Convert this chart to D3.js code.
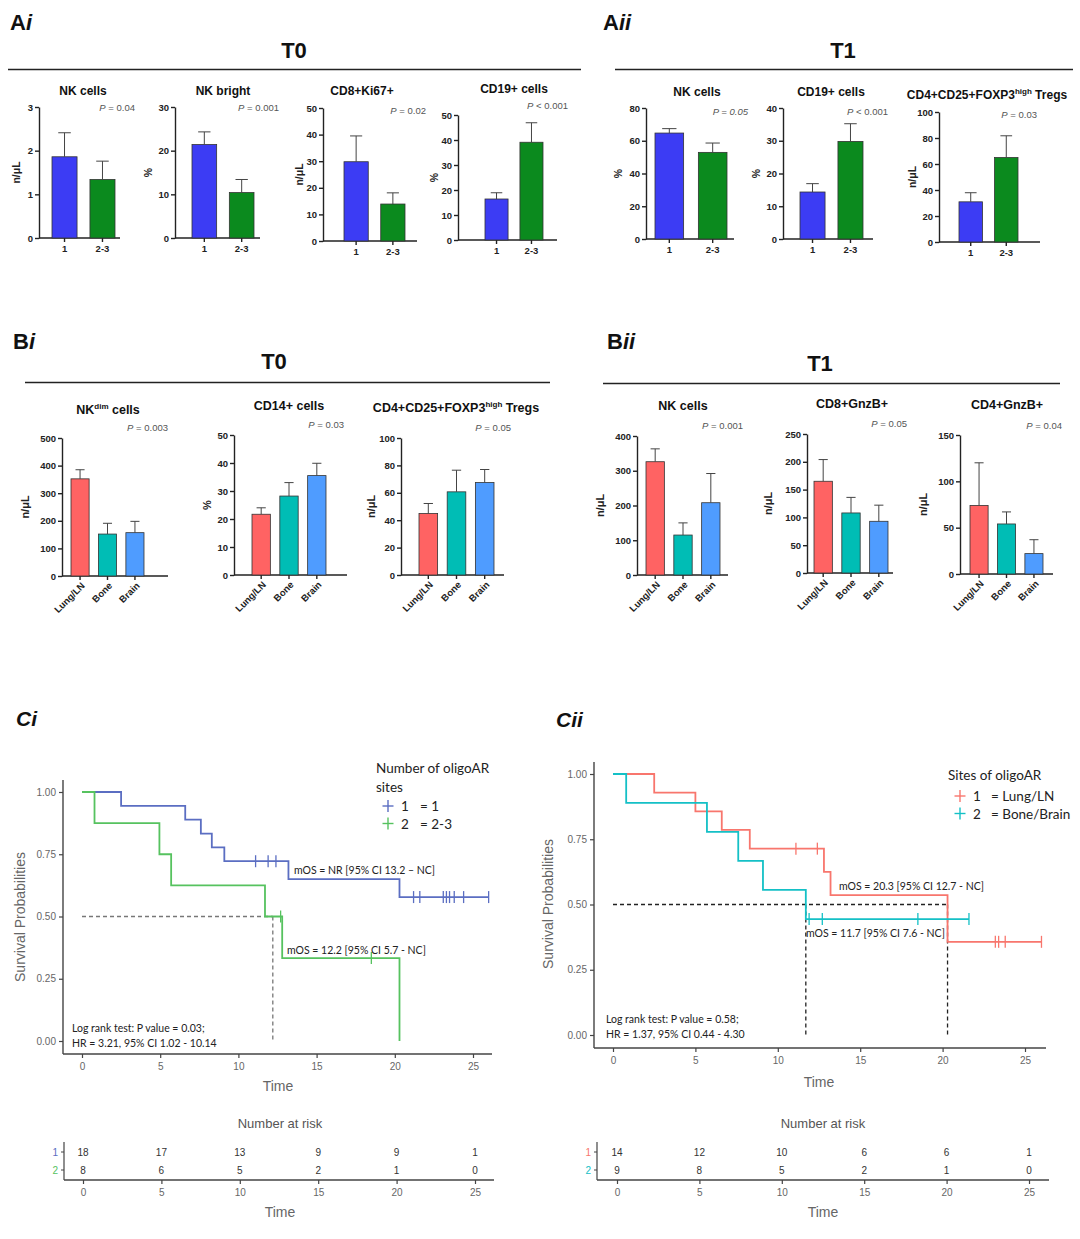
<!DOCTYPE html>
<html lang="en">
<head>
<meta charset="utf-8">
<title>Immune subsets and survival by oligoAR sites</title>
<script src="https://cdnjs.cloudflare.com/ajax/libs/d3/7.8.5/d3.min.js"></script>
<style>
body { margin: 0; background: #fff; }
svg { display: block; font-family: "Liberation Sans", Arial, sans-serif; }
.bars .tick text { font-weight: bold; font-size: 9.5px; fill: #222; }
.bars .tick line, .bars .domain { stroke: #222; stroke-width: 1.4; }
.km .tick text { font-size: 10px; fill: #666; }
.km .tick line { stroke: #444; stroke-width: 1.2; }
.ann { font-family: Lato, "Open Sans", sans-serif; fill: #222; }
.narrow { font-family: "Liberation Sans Narrow", "Liberation Sans", Arial, sans-serif; }
</style>
</head>
<body>
<script>
// ---------------- data ----------------
var groupsA = ["1", "2-3"];
var sitesB = ["Lung/LN", "Bone", "Brain"];

// Ai : T0, by number of sites
var aiTitles = ["NK cells", "NK bright", "CD8+Ki67+", "CD19+ cells"];
var aiUnits = ["n/\u03bcL", "%", "n/\u03bcL", "%"];
var aiP = ["= 0.04", "= 0.001", "= 0.02", "< 0.001"];
var aiMax = [3, 30, 50, 50];
var aiStep = [1, 10, 10, 10];
var aiMean = [[1.86, 1.34], [21.4, 10.4], [29.8, 13.9], [16.4, 39.1]];
var aiErr = [[2.41, 1.76], [24.3, 13.4], [39.5, 18.1], [18.9, 46.9]];

// Aii : T1, by number of sites
var aiiTitles = ["NK cells", "CD19+ cells", "CD4+CD25+FOXP3^high^ Tregs"];
var aiiUnits = ["%", "%", "n/\u03bcL"];
var aiiP = ["= 0.05", "< 0.001", "= 0.03"];
var aiiMax = [80, 40, 100];
var aiiStep = [20, 10, 20];
var aiiMean = [[64.7, 52.9], [14.35, 29.8], [30.9, 65.0]];
var aiiErr = [[67.4, 58.6], [16.9, 35.2], [37.9, 81.7]];

// Bi : T0, by site
var biTitles = ["NK^dim^ cells", "CD14+ cells", "CD4+CD25+FOXP3^high^ Tregs"];
var biUnits = ["n/\u03bcL", "%", "n/\u03bcL"];
var biP = ["= 0.003", "= 0.03", "= 0.05"];
var biMax = [500, 50, 100];
var biStep = [100, 10, 20];
var biMean = [[352, 152, 157], [21.7, 28.2, 35.5], [44.9, 60.7, 67.5]];
var biErr = [[385, 191, 198], [24, 33, 39.9], [52.2, 76.5, 77]];

// Bii : T1, by site
var biiTitles = ["NK cells", "CD8+GnzB+", "CD4+GnzB+"];
var biiUnits = ["n/\u03bcL", "n/\u03bcL", "n/\u03bcL"];
var biiP = ["= 0.001", "= 0.05", "= 0.04"];
var biiMax = [400, 250, 150];
var biiStep = [100, 50, 50];
var biiMean = [[326, 115, 208], [165, 108, 93], [74, 54, 22]];
var biiErr = [[363, 150, 292], [204, 136, 122], [120, 67, 37]];

// Ci : survival by number of sites  ([time, survival after the drop])
var ci1Steps = [[2.5, 0.944], [6.6, 0.889], [7.6, 0.833], [8.3, 0.778], [9.1, 0.722], [13.2, 0.65], [20.3, 0.578]];
var ci1End = 26.0;
var ci1Cens = [[11.1, 0.722], [11.9, 0.722], [12.4, 0.722], [21.2, 0.578], [21.6, 0.578], [23.1, 0.578],
               [23.3, 0.578], [23.5, 0.578], [23.8, 0.578], [24.4, 0.578], [26.0, 0.578]];
var ci2Steps = [[0.8, 0.875], [4.95, 0.75], [5.7, 0.625], [11.7, 0.5], [12.8, 0.333], [20.3, 0]];
var ci2End = 20.3;
var ci2Cens = [[12.7, 0.5], [18.5, 0.333]];
var ciMedians = [12.2];

// Cii : survival by site
var cii1Steps = [[2.5, 0.929], [5.0, 0.857], [6.6, 0.786], [8.3, 0.714], [12.8, 0.625], [13.2, 0.536], [20.3, 0.357]];
var cii1End = 26.0;
var cii1Cens = [[11.1, 0.714], [12.4, 0.714], [23.2, 0.357], [23.4, 0.357], [23.8, 0.357], [26.0, 0.357]];
var cii2Steps = [[0.8, 0.889], [5.7, 0.778], [7.6, 0.667], [9.1, 0.556], [11.7, 0.444]];
var cii2End = 21.6;
var cii2Cens = [[11.9, 0.444], [12.7, 0.444], [18.5, 0.444], [21.6, 0.444]];
var ciiMedians = [11.7, 20.3];

// number at risk
var riskTimes = [0, 5, 10, 15, 20, 25];
var ciRisk1 = [18, 17, 13, 9, 9, 1];
var ciRisk2 = [8, 6, 5, 2, 1, 0];
var ciiRisk1 = [14, 12, 10, 6, 6, 1];
var ciiRisk2 = [9, 8, 5, 2, 1, 0];

var kmTicksX = [0, 5, 10, 15, 20, 25];
var kmTicksY = [0, 0.25, 0.5, 0.75, 1];

// ---------------- colours ----------------
var colA = ["#3c3cf4", "#0b8a1e"];
var colB = ["#ff6363", "#00bdb5", "#4f9cff"];
var colCi = ["#5b6ec2", "#56c25f"];
var colCii = ["#f8766d", "#14c0c6"];

// ---------------- svg ----------------
var W = 1080, H = 1239;
var svg = d3.select("body").append("svg").attr("width", W).attr("height", H);
svg.append("rect").attr("width", W).attr("height", H).attr("fill", "#fff");

// text with ^superscript^ parts
function richText(sel, str, supSize) {
  var parts = str.split("^");
  var shift = 0;
  parts.forEach(function(p, i) {
    if (!p) return;
    var t = sel.append("tspan").text(p);
    if (i % 2 === 1) {
      t.attr("font-size", supSize).attr("dy", -5);
      shift = 5;
    } else if (shift) {
      t.attr("dy", shift);
      shift = 0;
    }
  });
}

function header(lab, sub, lx, ly, title, tx, ty, x1, x2, lineY) {
  var t = svg.append("text").attr("x", lx).attr("y", ly)
    .attr("font-size", 22).attr("font-weight", "bold").attr("fill", "#111");
  t.append("tspan").text(lab);
  t.append("tspan").attr("font-style", "italic").text(sub);
  svg.append("text").attr("x", tx).attr("y", ty).attr("text-anchor", "middle")
    .attr("font-size", 22).attr("font-weight", "bold").attr("fill", "#111").text(title);
  svg.append("line").attr("x1", x1).attr("x2", x2).attr("y1", lineY).attr("y2", lineY)
    .attr("stroke", "#222").attr("stroke-width", 1.3);
}

function barPanel(L, d) {
  var g = svg.append("g").attr("class", "bars");
  var y = d3.scaleLinear().domain([0, d.max]).range([L.bot, L.top]);
  var x = d3.scaleBand().domain(d.cats).range([L.ax + L.band[0], L.ax + L.band[1]]).paddingInner(0.34);

  g.append("g").attr("transform", "translate(" + L.ax + ",0)")
    .call(d3.axisLeft(y).tickValues(d3.range(0, d.max + d.step / 2, d.step))
      .tickFormat(d3.format("~g")).tickSize(4).tickSizeOuter(0).tickPadding(2));

  var xa = g.append("g").attr("transform", "translate(0," + L.bot + ")")
    .call(d3.axisBottom(x).tickSize(4).tickSizeOuter(0).tickPadding(3));
  xa.select(".domain").remove();
  g.append("line").attr("x1", L.ax).attr("x2", L.ax + L.len).attr("y1", L.bot).attr("y2", L.bot)
    .attr("stroke", "#222").attr("stroke-width", 1.4);
  if (d.rotate) {
    xa.selectAll(".tick text").attr("text-anchor", "end").attr("x", 0).attr("y", 0)
      .attr("dy", "0.35em").style("font-size", "9.5px")
      .attr("transform", "translate(3,8) rotate(-45)");
  }

  // bars
  g.selectAll("rect.bar").data(d.cats).enter().append("rect")
    .attr("class", "bar")
    .attr("x", function(c) { return x(c); })
    .attr("width", x.bandwidth())
    .attr("y", function(c, i) { return y(d.mean[i]); })
    .attr("height", function(c, i) { return L.bot - y(d.mean[i]); })
    .attr("fill", function(c, i) { return d.colors[i]; })
    .attr("stroke", "#333").attr("stroke-width", 0.8);

  // error bars (upper only)
  var cap = x.bandwidth() * 0.25;
  d.cats.forEach(function(c, i) {
    var cx = x(c) + x.bandwidth() / 2;
    g.append("line").attr("x1", cx).attr("x2", cx).attr("y1", y(d.mean[i])).attr("y2", y(d.err[i]))
      .attr("stroke", "#444").attr("stroke-width", 1);
    g.append("line").attr("x1", cx - cap).attr("x2", cx + cap).attr("y1", y(d.err[i])).attr("y2", y(d.err[i]))
      .attr("stroke", "#444").attr("stroke-width", 1);
  });

  // title
  var tt = g.append("text").attr("x", L.tx).attr("y", L.ty).attr("text-anchor", "middle")
    .attr("font-size", d.tsize).attr("font-weight", "bold").attr("fill", "#111");
  richText(tt, d.title, 8);

  // unit label
  g.append("text").attr("transform", "translate(" + (L.ax + L.lab) + "," + ((L.top + L.bot) / 2) + ") rotate(-90)")
    .attr("text-anchor", "middle").attr("dy", "0.35em")
    .attr("font-size", d.usize).attr("font-weight", "bold").attr("fill", "#222").text(d.unit);

  // p value
  var pt = g.append("text").attr("x", L.px).attr("y", L.py).attr("text-anchor", "end")
    .attr("font-size", 9.5).attr("fill", "#555");
  if (d.pItalic) pt.attr("font-style", "italic");
  pt.append("tspan").attr("font-style", "italic").text("P");
  pt.append("tspan").text(" " + d.p);
}

// ---------------- panel A ----------------
header("A", "i", 10, 30, "T0", 294, 58, 8, 581, 69.5);
header("A", "ii", 603, 30, "T1", 843, 58, 615, 1073, 69.5);

var aiLayout = [
  {ax: 39, top: 107, bot: 238, band: [13, 76], len: 81, tx: 83, ty: 95, px: 135, py: 111, lab: -23},
  {ax: 175, top: 107, bot: 238, band: [17, 79], len: 85, tx: 223, ty: 95, px: 279, py: 111, lab: -27},
  {ax: 323, top: 108, bot: 241, band: [21, 82], len: 94, tx: 362, ty: 95, px: 426, py: 114, lab: -24},
  {ax: 458, top: 115, bot: 240, band: [27, 85], len: 99, tx: 514, ty: 93, px: 568, py: 109, lab: -24}
];
aiLayout.forEach(function(L, i) {
  barPanel(L, {title: aiTitles[i], unit: aiUnits[i], p: aiP[i], max: aiMax[i], step: aiStep[i],
    mean: aiMean[i], err: aiErr[i], cats: groupsA, colors: colA, tsize: 12, usize: 10.5});
});

var aiiLayout = [
  {ax: 646, top: 108, bot: 239, band: [9, 81], len: 88, tx: 697, ty: 96, px: 748, py: 115, lab: -28},
  {ax: 783, top: 108, bot: 239, band: [17, 80], len: 90, tx: 831, ty: 96, px: 888, py: 115, lab: -27},
  {ax: 939, top: 112, bot: 242, band: [20, 79], len: 101, tx: 987, ty: 99, px: 1037, py: 118, lab: -27}
];
aiiLayout.forEach(function(L, i) {
  barPanel(L, {title: aiiTitles[i], unit: aiiUnits[i], p: aiiP[i], max: aiiMax[i], step: aiiStep[i],
    mean: aiiMean[i], err: aiiErr[i], cats: groupsA, colors: colA, tsize: 12, usize: 10.5, pItalic: i === 0});
});

// ---------------- panel B ----------------
header("B", "i", 13, 349, "T0", 274, 369, 25, 550, 382.5);
header("B", "ii", 607, 349, "T1", 820, 371, 603, 1060, 383.5);

var biLayout = [
  {ax: 62, top: 438, bot: 576, band: [9, 82], len: 106, tx: 108, ty: 414, px: 168, py: 431, lab: -37},
  {ax: 234, top: 435, bot: 575, band: [18, 92], len: 113, tx: 289, ty: 410, px: 344, py: 428, lab: -27},
  {ax: 401, top: 438, bot: 575, band: [18, 93], len: 103, tx: 456, ty: 412, px: 511, py: 431, lab: -30}
];
biLayout.forEach(function(L, i) {
  barPanel(L, {title: biTitles[i], unit: biUnits[i], p: biP[i], max: biMax[i], step: biStep[i],
    mean: biMean[i], err: biErr[i], cats: sitesB, colors: colB, tsize: 12.5, usize: 11, rotate: true});
});

var biiLayout = [
  {ax: 637, top: 436, bot: 575, band: [9, 83], len: 91, tx: 683, ty: 410, px: 743, py: 429, lab: -37},
  {ax: 807, top: 434, bot: 573, band: [7, 81], len: 86, tx: 852, ty: 408, px: 907, py: 427, lab: -39},
  {ax: 960, top: 435, bot: 574, band: [10, 83], len: 93, tx: 1007, ty: 409, px: 1062, py: 429, lab: -37}
];
biiLayout.forEach(function(L, i) {
  barPanel(L, {title: biiTitles[i], unit: biiUnits[i], p: biiP[i], max: biiMax[i], step: biiStep[i],
    mean: biiMean[i], err: biiErr[i], cats: sitesB, colors: colB, tsize: 12.5, usize: 11, rotate: true});
});

// ---------------- panel C ----------------
function kmPanel(o) {
  var g = svg.append("g").attr("class", "km");
  var x = d3.scaleLinear().domain([0, 25]).range(o.xr);
  var y = d3.scaleLinear().domain([0, 1]).range(o.yr);

  g.append("text").attr("x", o.lx).attr("y", o.ly)
    .attr("font-size", 21).attr("font-weight", "bold").attr("font-style", "italic").attr("fill", "#111")
    .text(o.label);

  // axes
  g.append("line").attr("x1", o.ax).attr("x2", o.ax).attr("y1", o.axTop).attr("y2", o.axBot)
    .attr("stroke", "#444").attr("stroke-width", 1.4);
  g.append("line").attr("x1", o.ax).attr("x2", o.axRight).attr("y1", o.axBot).attr("y2", o.axBot)
    .attr("stroke", "#444").attr("stroke-width", 1.4);
  var ya = g.append("g").attr("transform", "translate(" + o.ax + ",0)")
    .call(d3.axisLeft(y).tickValues(kmTicksY).tickFormat(d3.format(".2f")).tickSize(4).tickPadding(3));
  ya.select(".domain").remove();
  var xa = g.append("g").attr("transform", "translate(0," + o.axBot + ")")
    .call(d3.axisBottom(x).tickValues(kmTicksX).tickSize(4).tickPadding(5));
  xa.select(".domain").remove();

  g.append("text").attr("transform", "translate(" + o.ylx + "," + o.yly + ") rotate(-90)")
    .attr("text-anchor", "middle").attr("font-size", 14).attr("fill", "#666").text("Survival Probabilities");
  g.append("text").attr("x", o.tlx).attr("y", o.tly).attr("text-anchor", "middle")
    .attr("font-size", 14).attr("fill", "#666").text("Time");

  // median reference lines
  var mMax = d3.max(o.medians);
  g.append("line").attr("x1", x(0)).attr("x2", x(mMax)).attr("y1", y(0.5)).attr("y2", y(0.5))
    .attr("stroke", o.dashCol).attr("stroke-width", 1.3).attr("stroke-dasharray", "4,3");
  o.medians.forEach(function(m) {
    g.append("line").attr("x1", x(m)).attr("x2", x(m)).attr("y1", y(0.5)).attr("y2", y(0))
      .attr("stroke", o.dashCol).attr("stroke-width", 1.3).attr("stroke-dasharray", "4,3");
  });

  // curves
  var line = d3.line().x(function(p) { return x(p[0]); }).y(function(p) { return y(p[1]); })
    .curve(d3.curveStepAfter);
  o.series.forEach(function(s) {
    var pts = [[0, 1]].concat(s.steps);
    pts.push([s.end, s.steps[s.steps.length - 1][1]]);
    g.append("path").attr("d", line(pts)).attr("fill", "none")
      .attr("stroke", s.color).attr("stroke-width", 1.8);
    g.selectAll(null).data(s.cens).enter().append("line")
      .attr("x1", function(p) { return x(p[0]); }).attr("x2", function(p) { return x(p[0]); })
      .attr("y1", function(p) { return y(p[1]) - 6; }).attr("y2", function(p) { return y(p[1]) + 6; })
      .attr("stroke", s.color).attr("stroke-width", 1.3);
  });

  // legend
  o.legTitle.forEach(function(tl, i) {
    g.append("text").attr("class", "ann").attr("x", o.legX).attr("y", o.legY + i * 19)
      .attr("font-size", 13.5).attr("fill", "#333").text(tl);
  });
  o.series.forEach(function(s, i) {
    var cy = o.legEntryY + i * 17.5, cx = o.legX + 12;
    g.append("line").attr("x1", cx - 5.5).attr("x2", cx + 5.5).attr("y1", cy).attr("y2", cy)
      .attr("stroke", s.color).attr("stroke-width", 1.4);
    g.append("line").attr("x1", cx).attr("x2", cx).attr("y1", cy - 6).attr("y2", cy + 6)
      .attr("stroke", s.color).attr("stroke-width", 1.4);
    g.append("text").attr("class", "ann").attr("x", cx + 13).attr("y", cy + 5)
      .attr("font-size", 13.5).attr("fill", "#777").text(String(i + 1));
    g.append("text").attr("class", "ann").attr("x", cx + o.legGap).attr("y", cy + 5)
      .attr("font-size", 13.5).attr("fill", "#222").text("= " + s.name);
  });

  // annotations
  o.notes.forEach(function(n) {
    g.append("text").attr("class", "ann").attr("x", n[0]).attr("y", n[1])
      .attr("font-size", 10.5).text(n[2]);
  });
}

kmPanel({
  label: "Ci", lx: 16, ly: 726,
  xr: [82, 473], yr: [1041, 792],
  ax: 63, axTop: 780, axBot: 1054, axRight: 492,
  ylx: 25, yly: 917, tlx: 278, tly: 1091,
  dashCol: "#777", medians: ciMedians,
  series: [
    {steps: ci1Steps, end: ci1End, cens: ci1Cens, color: colCi[0], name: "1"},
    {steps: ci2Steps, end: ci2End, cens: ci2Cens, color: colCi[1], name: "2-3"}
  ],
  legTitle: ["Number of oligoAR", "sites"], legX: 376, legY: 773, legEntryY: 806, legGap: 32,
  notes: [
    [294, 874, "mOS = NR [95% CI 13.2 \u2013 NC]"],
    [287, 954, "mOS = 12.2 [95% CI 5.7 - NC]"],
    [72, 1032, "Log rank test: P value = 0.03;"],
    [72, 1047, "HR = 3.21, 95% CI 1.02 - 10.14"]
  ]
});

kmPanel({
  label: "Cii", lx: 556, ly: 727,
  xr: [613, 1025], yr: [1035, 774],
  ax: 594, axTop: 762, axBot: 1048, axRight: 1046,
  ylx: 553, yly: 904, tlx: 819, tly: 1087,
  dashCol: "#222", medians: ciiMedians,
  series: [
    {steps: cii1Steps, end: cii1End, cens: cii1Cens, color: colCii[0], name: "Lung/LN"},
    {steps: cii2Steps, end: cii2End, cens: cii2Cens, color: colCii[1], name: "Bone/Brain"}
  ],
  legTitle: ["Sites of oligoAR"], legX: 948, legY: 780, legEntryY: 796, legGap: 31,
  notes: [
    [839, 890, "mOS = 20.3 [95% CI 12.7 - NC]"],
    [806, 937, "mOS = 11.7 [95% CI 7.6 - NC]"],
    [606, 1023, "Log rank test: P value = 0.58;"],
    [606, 1038, "HR = 1.37, 95% CI 0.44 - 4.30"]
  ]
});

// ---------------- number at risk ----------------
function riskTable(o) {
  var g = svg.append("g").attr("class", "km narrow");
  var x = d3.scaleLinear().domain([0, 25]).range(o.xr);
  g.append("text").attr("x", o.cx).attr("y", 1128).attr("text-anchor", "middle")
    .attr("font-size", 13).attr("fill", "#555").text("Number at risk");
  g.append("line").attr("x1", o.ax).attr("x2", o.ax).attr("y1", 1142).attr("y2", 1180)
    .attr("stroke", "#444").attr("stroke-width", 1.2);
  g.append("line").attr("x1", o.ax).attr("x2", o.axRight).attr("y1", 1180).attr("y2", 1180)
    .attr("stroke", "#444").attr("stroke-width", 1.4);
  var xa = g.append("g").attr("transform", "translate(0,1180)")
    .call(d3.axisBottom(x).tickValues(riskTimes).tickSize(4).tickPadding(5));
  xa.select(".domain").remove();
  [1152, 1170].forEach(function(ry, r) {
    g.append("line").attr("x1", o.ax - 3).attr("x2", o.ax).attr("y1", ry).attr("y2", ry)
      .attr("stroke", "#444").attr("stroke-width", 1);
    g.append("text").attr("x", o.ax - 6).attr("y", ry).attr("dy", "0.35em").attr("text-anchor", "end")
      .attr("font-size", 10).attr("fill", o.colors[r]).text(String(r + 1));
    g.selectAll(null).data(o.rows[r]).enter().append("text")
      .attr("x", function(v, i) { return x(riskTimes[i]); })
      .attr("y", ry).attr("dy", "0.35em").attr("text-anchor", "middle")
      .attr("font-size", 10).attr("fill", "#333").text(function(v) { return v; });
  });
  g.append("text").attr("x", o.cx).attr("y", 1217).attr("text-anchor", "middle")
    .attr("font-size", 14).attr("fill", "#666").text("Time");
}

riskTable({xr: [83, 475], ax: 64, axRight: 494, cx: 280, rows: [ciRisk1, ciRisk2], colors: colCi});
riskTable({xr: [617, 1029], ax: 597, axRight: 1049, cx: 823, rows: [ciiRisk1, ciiRisk2], colors: colCii});
</script>
</body>
</html>
